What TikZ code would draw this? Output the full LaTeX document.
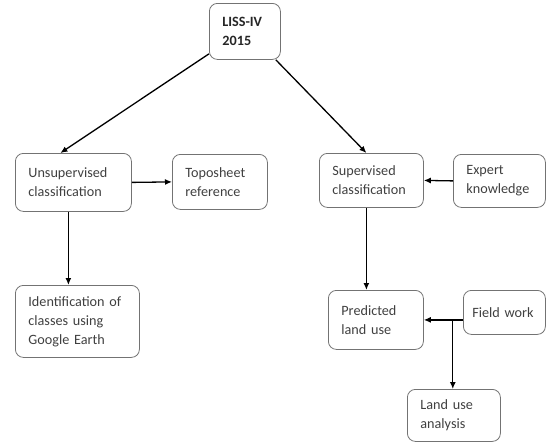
\documentclass[tikz,border=0pt]{standalone}
\usepackage{fontspec}
\setmainfont{Carlito}
\usetikzlibrary{arrows.meta}
\tikzset{
  box/.style 2 args={draw=black!55, line width=0.8pt, rounded corners=8pt,
    anchor=north west, align=left, inner xsep=13pt, text width=#1,
    minimum height=#2, text=black!75, font=\fontsize{14.2}{19}\selectfont},
  flow/.style={-{Latex[length=7pt,width=6pt]}, line width=1.3pt, black}
}
\begin{document}
\begin{tikzpicture}[x=1pt,y=-1pt]
      \useasboundingbox (0,0) rectangle (546,442);
      \node[box={45pt}{56pt}, text=black!85, font=\fontsize{14.2}{19}\selectfont\bfseries] (liss) at (209,3) {LISS-IV\\2015};
      \node[box={90pt}{58pt}] (unsup) at (15,153) {Unsupervised\\classification};
      \node[box={69pt}{55pt}] (topo) at (172,154) {Toposheet\\reference};
      \node[box={78pt}{54pt}] (sup) at (319,153) {Supervised\\classification};
      \node[box={66pt}{53pt}] (expert) at (453,154) {Expert\\knowledge};
      \node[box={98pt}{72pt}] (ident) at (15,285) {Identification of\\classes using\\Google Earth};
      \node[box={69pt}{59pt}] (pred) at (328,290) {Predicted\\land use};
      \node[box={64pt}{44pt}, inner xsep=9pt] (field) at (463,290) {Field work};
      \node[box={67pt}{52pt}] (land) at (407,389) {Land use\\analysis};
      \coordinate (fork) at ([xshift=29pt]pred.east);
      \begin{scope}[flow]
        \draw ([yshift=6pt]liss.south west) to ([xshift=-13pt]unsup.north);
        \draw ([xshift=-5pt]liss.south east) to ([xshift=-5pt]sup.north);
        \draw (unsup.east) to (topo.west);
        \draw (expert.west) to (sup.east);
        \draw ([xshift=-5pt]unsup.south) to ([xshift=-5pt]unsup.south |- ident.north);
        \draw ([xshift=-5pt]sup.south) to ([xshift=-5pt]sup.south |- pred.north);
        \draw (field.west |- pred.east) to (pred.east);
        \draw (fork) to (fork |- land.north);
      \end{scope}
    \end{tikzpicture}
\end{document}
